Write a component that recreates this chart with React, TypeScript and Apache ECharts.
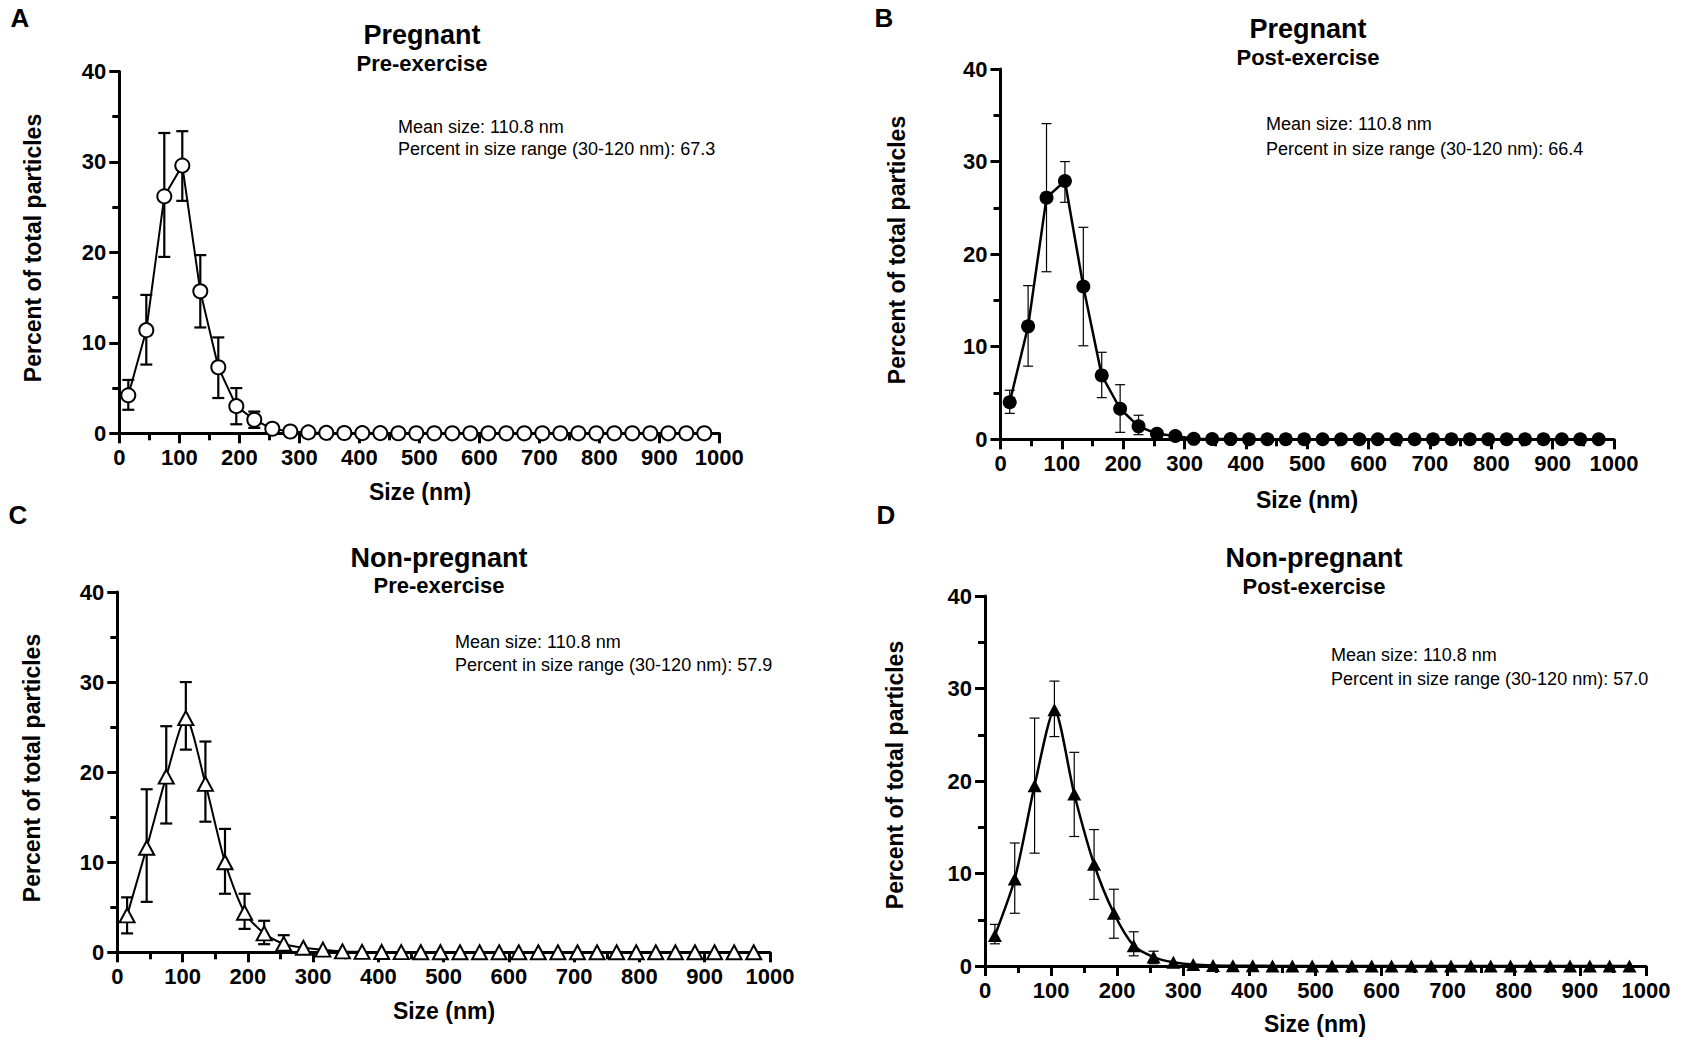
import React, { useEffect, useRef } from "react";
import * as echarts from "echarts";

// ---------------- DATA ----------------
const sizes = [15, 45, 75, 105, 135, 165, 195, 225, 255, 285, 315, 345, 375, 405, 435, 465, 495, 525, 555, 585, 615, 645, 675, 705, 735, 765, 795, 825, 855, 885, 915, 945, 975];

const xTicks = [0, 100, 200, 300, 400, 500, 600, 700, 800, 900, 1000];
const yTicks = [0, 10, 20, 30, 40];

// Panel A: Pregnant, pre-exercise
const meanA = [4.2, 11.4, 26.2, 29.6, 15.7, 7.3, 3.0, 1.5, 0.5, 0.2, 0.1, 0.05, 0.03, 0.02, 0.02, 0.01, 0.01, 0, 0, 0, 0, 0, 0, 0, 0, 0, 0, 0, 0, 0, 0, 0, 0];
const lowA = [2.6, 7.6, 19.5, 25.7, 11.7, 3.9, 1.0, 0.6];
const highA = [5.9, 15.3, 33.2, 33.4, 19.7, 10.6, 5.0, 2.4];

// Panel B: Pregnant, post-exercise
const meanB = [4.0, 12.2, 26.1, 27.9, 16.5, 6.9, 3.3, 1.4, 0.6, 0.35, 0.05, 0.03, 0.02, 0.01, 0.01, 0, 0, 0, 0, 0, 0, 0, 0, 0, 0, 0, 0, 0, 0, 0, 0, 0, 0];
const lowB = [2.8, 7.9, 18.1, 25.6, 10.1, 4.5, 0.75, 0.5];
const highB = [5.3, 16.6, 34.1, 30.0, 22.9, 9.4, 5.9, 2.6];

// Panel C: Non-pregnant, pre-exercise
const meanC = [4.1, 11.6, 19.5, 26.0, 18.7, 10.0, 4.4, 2.1, 0.94, 0.5, 0.3, 0.1, 0.05, 0.03, 0.02, 0.01, 0.01, 0, 0, 0, 0, 0, 0, 0, 0, 0, 0, 0, 0, 0, 0, 0, 0];
const lowC = [2.1, 5.6, 14.3, 22.5, 14.5, 6.5, 2.6, 0.9, 0.2];
const highC = [6.1, 18.1, 25.1, 30.0, 23.4, 13.7, 6.5, 3.5, 1.9];

// Panel D: Non-pregnant, post-exercise
const meanD = [3.3, 9.4, 19.5, 27.7, 18.6, 11.0, 5.7, 2.2, 0.97, 0.4, 0.15, 0.05, 0.03, 0.02, 0.01, 0.01, 0, 0, 0, 0, 0, 0, 0, 0, 0, 0, 0, 0, 0, 0, 0, 0, 0];
const lowD = [2.4, 5.7, 12.2, 24.8, 14.0, 7.2, 3.0, 1.1, 0.25];
const highD = [4.5, 13.3, 26.8, 30.8, 23.1, 14.75, 8.3, 3.7, 1.6];

const panelLetters = ["A", "B", "C", "D"];
const panelTitles = ["Pregnant", "Pregnant", "Non-pregnant", "Non-pregnant"];
const panelSubtitles = ["Pre-exercise", "Post-exercise", "Pre-exercise", "Post-exercise"];
const meanSizes = ["110.8", "110.8", "110.8", "110.8"];
const percentInRange = ["67.3", "66.4", "57.9", "57.0"];
const yAxisTitle = "Percent of total particles";
const xAxisTitle = "Size (nm)";

// ---------------- LAYOUT ----------------
const FONT = "'Liberation Sans', Arial, Helvetica, sans-serif";

type Layout = {
  grid: { left: number; top: number; width: number; height: number };
  letter: [number, number];
  title: [number, number];
  subtitle: [number, number];
  note: [number, number, number];
  yTitle: [number, number];
  xTitle: [number, number];
};

const layouts: Layout[] = [
  { grid: { left: 119.3, top: 71.5, width: 600, height: 361.8 }, letter: [20, 18], title: [422, 35], subtitle: [422, 63], note: [398, 127, 149], yTitle: [33, 248], xTitle: [420, 492] },
  { grid: { left: 1000.5, top: 69, width: 613.5, height: 370.3 }, letter: [884, 18], title: [1308, 29], subtitle: [1308, 57], note: [1266, 124, 149], yTitle: [897, 250], xTitle: [1307, 500] },
  { grid: { left: 117.3, top: 592, width: 652.7, height: 360.3 }, letter: [18, 515], title: [439, 558], subtitle: [439, 585], note: [455, 642, 665], yTitle: [32, 768], xTitle: [444, 1011] },
  { grid: { left: 985, top: 596, width: 661, height: 370 }, letter: [886, 515], title: [1314, 558], subtitle: [1314, 586], note: [1331, 655, 679], yTitle: [895, 775], xTitle: [1315, 1024] },
];

type Style = { symbol: string; size: number | number[]; fill: string; border: number; lineW: number; errW: number; cap: number; smooth: number };
const styles: Style[] = [
  { symbol: "circle", size: 14, fill: "#ffffff", border: 2, lineW: 2, errW: 2.2, cap: 6, smooth: 0 },
  { symbol: "circle", size: 14, fill: "#000000", border: 0, lineW: 2.5, errW: 1.2, cap: 5, smooth: 0 },
  { symbol: "triangle", size: [15, 14], fill: "#ffffff", border: 2, lineW: 2, errW: 2.2, cap: 6, smooth: 0.25 },
  { symbol: "triangle", size: [14, 13], fill: "#000000", border: 0, lineW: 2.5, errW: 1.2, cap: 5, smooth: 0.25 },
];

const means = [meanA, meanB, meanC, meanD];
const lows = [lowA, lowB, lowC, lowD];
const highs = [highA, highB, highC, highD];

function makeErrRender(cap: number, lw: number) {
  return (params: any, api: any) => {
    const x = api.value(0);
    const lo = api.value(1);
    const hi = api.value(2);
    const pHi = api.coord([x, hi]);
    const pLo = api.coord([x, lo]);
    const st = { stroke: "#000", lineWidth: lw };
    return {
      type: "group",
      children: [
        { type: "line", shape: { x1: pHi[0], y1: pHi[1], x2: pLo[0], y2: pLo[1] }, style: st },
        { type: "line", shape: { x1: pHi[0] - cap, y1: pHi[1], x2: pHi[0] + cap, y2: pHi[1] }, style: st },
        { type: "line", shape: { x1: pLo[0] - cap, y1: pLo[1], x2: pLo[0] + cap, y2: pLo[1] }, style: st },
      ],
    };
  };
}

function txt(text: string, x: number, y: number, size: number, weight: string, align: string, rotation = 0) {
  return {
    type: "text",
    x,
    y,
    rotation,
    silent: true,
    style: {
      text,
      x: 0,
      y: 0,
      fill: "#000",
      fontSize: size,
      fontWeight: weight,
      fontFamily: FONT,
      align,
      verticalAlign: "middle",
      textAlign: align,
      textVerticalAlign: "middle",
    },
  };
}

function buildOption() {
  const grids: any[] = [];
  const xAxes: any[] = [];
  const yAxes: any[] = [];
  const series: any[] = [];
  const graphics: any[] = [];

  const labelStyle = { color: "#000", fontSize: 22, fontWeight: "bold", fontFamily: FONT, margin: 13, formatter: (v: number) => String(v) };

  layouts.forEach((L, i) => {
    const S = styles[i];
    grids.push({ ...L.grid, containLabel: false });
    xAxes.push({
      type: "value",
      gridIndex: i,
      min: xTicks[0],
      max: xTicks[xTicks.length - 1],
      interval: xTicks[1] - xTicks[0],
      axisLine: { show: true, onZero: false, lineStyle: { color: "#000", width: 3 } },
      axisTick: { show: true, inside: false, length: 10, lineStyle: { color: "#000", width: 3 } },
      minorTick: { show: true, splitNumber: 2, length: 7, lineStyle: { color: "#000", width: 3 } },
      splitLine: { show: false },
      minorSplitLine: { show: false },
      axisLabel: labelStyle,
    });
    yAxes.push({
      type: "value",
      gridIndex: i,
      min: yTicks[0],
      max: yTicks[yTicks.length - 1],
      interval: yTicks[1] - yTicks[0],
      axisLine: { show: true, lineStyle: { color: "#000", width: 3 } },
      axisTick: { show: true, inside: false, length: 10, lineStyle: { color: "#000", width: 3 } },
      minorTick: { show: true, splitNumber: 2, length: 7, lineStyle: { color: "#000", width: 3 } },
      splitLine: { show: false },
      minorSplitLine: { show: false },
      axisLabel: labelStyle,
    });

    const errData = lows[i].map((lo, k) => [sizes[k], lo, highs[i][k]]);
    series.push({
      type: "custom",
      xAxisIndex: i,
      yAxisIndex: i,
      renderItem: makeErrRender(S.cap, S.errW),
      data: errData,
      encode: { x: 0, y: [1, 2] },
      z: 2,
      clip: false,
      silent: true,
    });
    series.push({
      type: "line",
      xAxisIndex: i,
      yAxisIndex: i,
      data: sizes.map((s, k) => [s, means[i][k]]),
      symbol: S.symbol,
      symbolSize: S.size,
      showAllSymbol: true,
      smooth: S.smooth,
      lineStyle: { color: "#000", width: S.lineW },
      itemStyle: { color: S.fill, borderColor: "#000", borderWidth: S.border },
      z: 3,
      silent: true,
    });

    graphics.push(txt(panelLetters[i], L.letter[0], L.letter[1], 26, "bold", "center"));
    graphics.push(txt(panelTitles[i], L.title[0], L.title[1], 27, "bold", "center"));
    graphics.push(txt(panelSubtitles[i], L.subtitle[0], L.subtitle[1], 22, "bold", "center"));
    graphics.push(txt(`Mean size: ${meanSizes[i]} nm`, L.note[0], L.note[1], 18, "normal", "left"));
    graphics.push(txt(`Percent in size range (30-120 nm): ${percentInRange[i]}`, L.note[0], L.note[2], 18, "normal", "left"));
    graphics.push(txt(yAxisTitle, L.yTitle[0], L.yTitle[1], 23, "bold", "center", Math.PI / 2));
    graphics.push(txt(xAxisTitle, L.xTitle[0], L.xTitle[1], 23, "bold", "center"));
  });

  return {
    animation: false,
    backgroundColor: "#ffffff",
    grid: grids,
    xAxis: xAxes,
    yAxis: yAxes,
    series,
    graphic: graphics,
  };
}

export default function App() {
  const ref = useRef<HTMLDivElement>(null);
  useEffect(() => {
    document.body.style.margin = "0";
    if (!ref.current) return;
    const chart = echarts.init(ref.current, undefined, { renderer: "svg", width: 1690, height: 1040 });
    chart.setOption(buildOption() as any);
    return () => chart.dispose();
  }, []);
  return <div ref={ref} style={{ position: "absolute", left: 0, top: 0, width: 1690, height: 1040, background: "#fff" }} />;
}
